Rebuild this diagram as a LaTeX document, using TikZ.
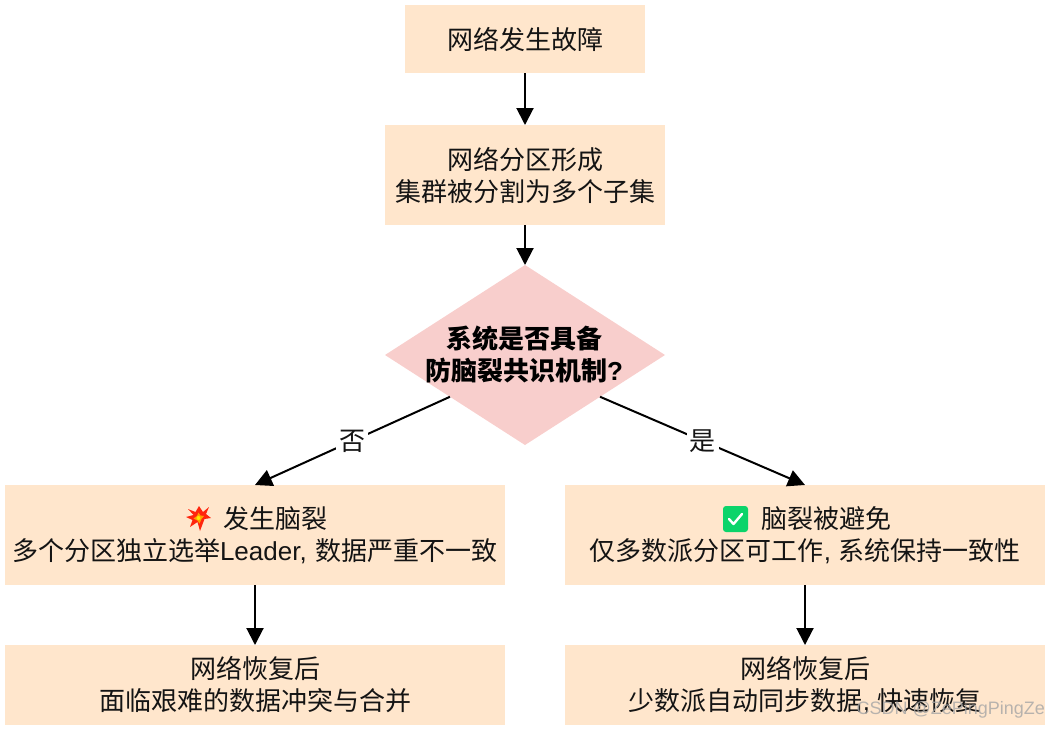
\documentclass[tikz,border=0pt]{standalone}
\usepackage{fontspec}
\usetikzlibrary{shapes.geometric,arrows.meta,calc}
\setmainfont{Noto Sans CJK SC}
\newfontfamily\lat{Liberation Sans}
\definecolor{boxfill}{HTML}{FFE6CC}
\definecolor{diafill}{HTML}{F8CECC}
\definecolor{okgreen}{HTML}{0BD46A}
\tikzset{
  x=1pt,y=-1pt,
  every node/.style={inner sep=0pt,outer sep=0pt,font=\fontsize{26}{32}\selectfont,align=center,text=black!92},
  flowbox/.style={fill=boxfill,draw=none,minimum width=#1},
  conn/.style={line width=2pt,black,-{Triangle[length=17pt,width=17pt]}},
  edgetag/.style={fill=white,inner xsep=3pt,inner ysep=2pt},
}
\begin{document}
\begin{tikzpicture}
\useasboundingbox (0,0) rectangle (1048,728);
\node[flowbox=240,minimum height=68] (a) at (525,39) {网络发生故障};
\node[flowbox=280,minimum height=100] (b) at (525,175) {网络分区形成\\集群被分割为多个子集};
\node[diamond,fill=diafill,shape aspect=1.5556,minimum width=280,minimum height=180] (c) at (525,355) {};
\node[text=black] (ctext) at (524,354.5) {\bfseries 系统是否具备\\\bfseries 防脑裂共识机制{\lat\bfseries ?}};
\node[flowbox=500,minimum height=100] (l1) at (255,535) {\hspace{41pt}发生脑裂\\多个分区独立选举{\lat Leader,\hspace{2pt} }数据严重不一致};
\node[flowbox=480,minimum height=100] (r1) at (805,535) {\hspace{43pt}脑裂被避免\\仅多数派分区可工作{\lat , }系统保持一致性};
\node[flowbox=500,minimum height=80] (l2) at (255,685) {网络恢复后\\面临艰难的数据冲突与合并};
\node[flowbox=480,minimum height=80] (r2) at (805,685) {网络恢复后\\少数派自动同步数据{\lat , }快速恢复};
\coordinate (cl) at ($(c.west)!0.464!(c.south)$);
\coordinate (cr) at ($(c.east)!0.464!(c.south)$);
\draw[conn] (a) -- (b);
\draw[conn] (b) -- (c);
\draw[conn] (cl) -- node[edgetag] (no) {否} (l1.north);
\draw[conn] (cr) -- node[edgetag] (yes) {是} (r1.north);
\draw[conn] (l1) -- (l2);
\draw[conn] (r1) -- (r2);
% burst emoji
\fill[red!80!orange!95!white] (199,506) -- (203,512) -- (209,507) -- (206,514) -- (211,518) -- (204.5,519) -- (200,531) -- (197.5,522) -- (190,527) -- (192.5,520) -- (186,517) -- (193.5,515) -- (188,509) -- (195.5,512) -- cycle;
\fill[orange!75!yellow] (198.5,512.5) -- (200.5,515.5) -- (204,516) -- (201.5,519) -- (199.5,523.5) -- (197.5,520.5) -- (193.5,518.5) -- (197,516) -- cycle;
\fill[yellow!90!orange] (198.5,518) circle (2);
% check emoji
\fill[okgreen,rounded corners=3pt] (723,506) rectangle (748,532);
\draw[white,line width=2.4pt,line cap=round,line join=round] (729,519) -- (733.5,524) -- (742,514);
% watermark
\node[font=\fontsize{18}{22}\selectfont\lat,text=gray!70,opacity=.8,anchor=east] (wm) at (1045,710) {CSDN @ZePingPingZe};
\end{tikzpicture}
\end{document}
